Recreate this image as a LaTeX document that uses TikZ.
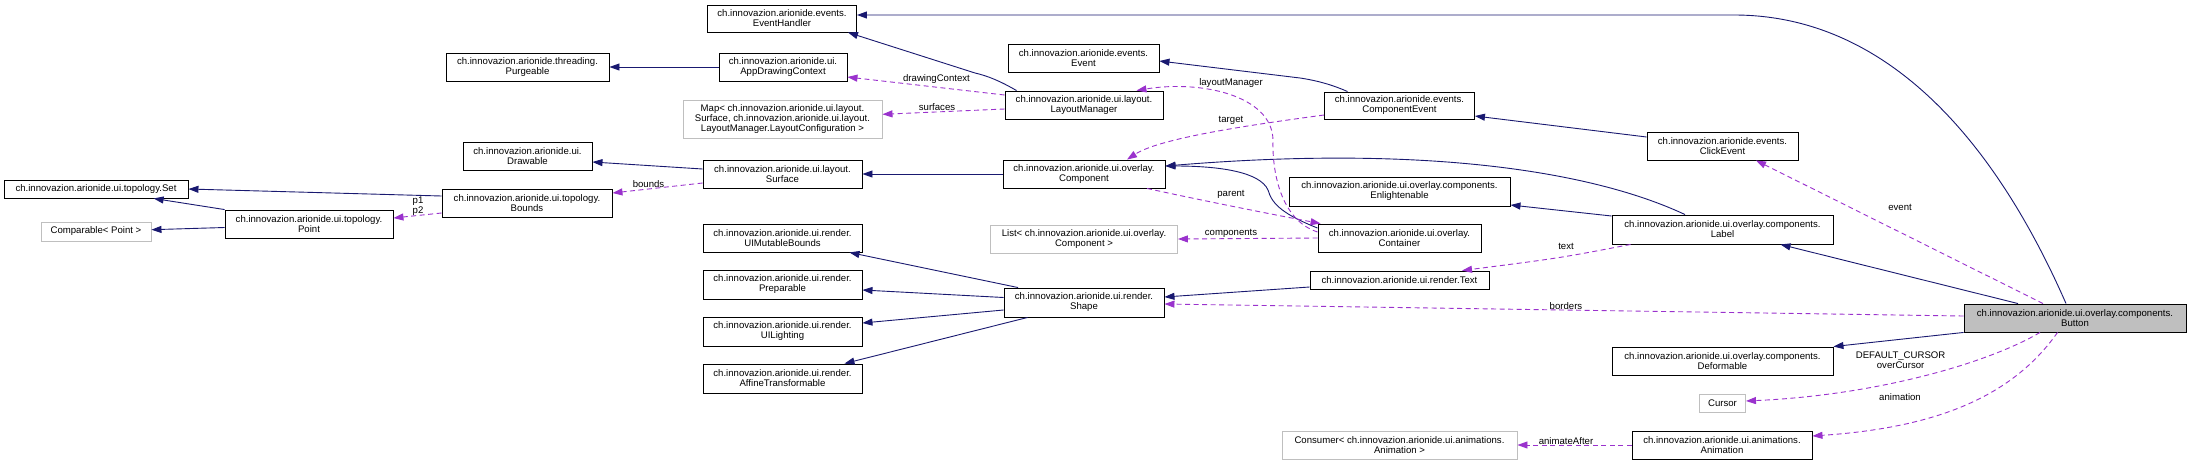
\documentclass[tikz,border=0pt]{standalone}
\usepackage{fontspec}
\setmainfont{Liberation Sans}
\usetikzlibrary{arrows.meta,calc}
\definecolor{navy}{HTML}{191970}
\definecolor{orchid}{HTML}{9A32CD}
\definecolor{boxgray}{HTML}{BFBFBF}
\tikzset{
  cls/.style={draw=black, line width=0.9pt, fill=white, inner sep=0pt, align=center, font=\fontsize{9.6}{10}\selectfont},
  ext/.style={cls, draw=boxgray},
  inh/.style={draw=navy, line width=0.9pt, -{Triangle[length=10pt,width=7pt]}},
  use/.style={draw=orchid, line width=0.9pt, dash pattern=on 5pt off 3.5pt, -{Triangle[length=10pt,width=7pt,fill=orchid]}},
  lbl/.style={inner sep=0pt, align=center, font=\fontsize{9.6}{10}\selectfont}
}
\begin{document}
\begin{tikzpicture}[x=1pt,y=-1pt]
\fill[white] (0,0) rectangle (2189,464);
\useasboundingbox (0,0) rectangle (2189,464);
% nodes
\node[cls, minimum width=149, minimum height=27] (eh) at (782,18.5) {ch.innovazion.arionide.events.\\EventHandler};
\node[cls, minimum width=163, minimum height=28] (purg) at (527.5,67) {ch.innovazion.arionide.threading.\\Purgeable};
\node[cls, minimum width=128, minimum height=28] (adc) at (783,67) {ch.innovazion.arionide.ui.\\AppDrawingContext};
\node[ext, minimum width=199, minimum height=38] (map) at (782.5,119) {Map< ch.innovazion.arionide.ui.layout.\\Surface, ch.innovazion.arionide.ui.layout.\\LayoutManager.LayoutConfiguration >};
\node[cls, minimum width=158, minimum height=28] (lm) at (1084,105) {ch.innovazion.arionide.ui.layout.\\LayoutManager};
\node[cls, minimum width=151, minimum height=28] (ev) at (1083.5,58) {ch.innovazion.arionide.events.\\Event};
\node[cls, minimum width=150, minimum height=27] (ce) at (1399.5,105.5) {ch.innovazion.arionide.events.\\ComponentEvent};
\node[cls, minimum width=151, minimum height=28] (click) at (1722.5,146) {ch.innovazion.arionide.events.\\ClickEvent};
\node[cls, minimum width=129, minimum height=28] (drawable) at (527.5,156) {ch.innovazion.arionide.ui.\\Drawable};
\node[cls, minimum width=159, minimum height=28] (surf) at (782.5,174) {ch.innovazion.arionide.ui.layout.\\Surface};
\node[cls, minimum width=162, minimum height=28] (comp) at (1084,174) {ch.innovazion.arionide.ui.overlay.\\Component};
\node[cls, minimum width=184, minimum height=18] (set) at (96,189) {ch.innovazion.arionide.ui.topology.Set};
\node[cls, minimum width=170, minimum height=28] (bounds) at (527,203) {ch.innovazion.arionide.ui.topology.\\Bounds};
\node[ext, minimum width=110, minimum height=19] (comparable) at (96,231.5) {Comparable< Point >};
\node[cls, minimum width=168, minimum height=28] (point) at (309,224) {ch.innovazion.arionide.ui.topology.\\Point};
\node[cls, minimum width=221, minimum height=29] (enl) at (1399.5,191.5) {ch.innovazion.arionide.ui.overlay.components.\\Enlightenable};
\node[cls, minimum width=221, minimum height=29] (label) at (1722.5,229.5) {ch.innovazion.arionide.ui.overlay.components.\\Label};
\node[cls, minimum width=163, minimum height=28] (cont) at (1399.5,238) {ch.innovazion.arionide.ui.overlay.\\Container};
\node[ext, minimum width=187, minimum height=28] (list) at (1084,239) {List< ch.innovazion.arionide.ui.overlay.\\Component >};
\node[cls, minimum width=159, minimum height=28] (uimb) at (782.5,238) {ch.innovazion.arionide.ui.render.\\UIMutableBounds};
\node[cls, minimum width=179, minimum height=18] (text) at (1399.5,280) {ch.innovazion.arionide.ui.render.Text};
\node[cls, minimum width=160, minimum height=29] (shape) at (1084,302.5) {ch.innovazion.arionide.ui.render.\\Shape};
\node[cls, minimum width=159, minimum height=29] (prep) at (782.5,284.5) {ch.innovazion.arionide.ui.render.\\Preparable};
\node[cls, fill=boxgray, minimum width=222, minimum height=28] (btn) at (2075,318) {ch.innovazion.arionide.ui.overlay.components.\\Button};
\node[cls, minimum width=159, minimum height=29] (uil) at (782.5,331.5) {ch.innovazion.arionide.ui.render.\\UILighting};
\node[cls, minimum width=159, minimum height=29] (aff) at (782.5,378.5) {ch.innovazion.arionide.ui.render.\\AffineTransformable};
\node[cls, minimum width=221, minimum height=28] (def) at (1722.5,361) {ch.innovazion.arionide.ui.overlay.components.\\Deformable};
\node[ext, minimum width=46, minimum height=18] (cursor) at (1722.5,403) {Cursor};
\node[cls, minimum width=180, minimum height=28] (anim) at (1722,445) {ch.innovazion.arionide.ui.animations.\\Animation};
\node[ext, minimum width=235, minimum height=28] (cons) at (1399.5,445) {Consumer< ch.innovazion.arionide.ui.animations.\\Animation >};

% inheritance edges
\draw[inh] ($(btn.north)+(-9,0)$) .. controls (1990,130) and (1880,15) .. (1734,15) -- ($(eh.east)+(0,-3.5)$);
\draw[inh] ($(lm.north west)+(12,0)$) .. controls (1000,81) and (988,76) .. (975,73) -- ($(eh.south east)+(-9,0)$);
\draw[inh] (adc.west) -- (purg.east);
\draw[inh] ($(ce.north west)+(23.5,0)$) .. controls (1335,86) and (1320,81) .. (1300,78) -- ($(ev.east)+(0,3)$);
\draw[inh] ($(click.west)+(0,-9)$) -- ($(ce.east)+(0,10.5)$);
\draw[inh] ($(surf.west)+(0,-5)$) -- ($(drawable.east)+(0,6)$);
\draw[inh] (comp.west) -- (surf.east);
\draw[inh] ($(bounds.west)+(0,-7)$) -- (set.east);
\draw[inh] (point.north west) -- ($(set.south)+(57.6,0)$);
\draw[inh] ($(point.west)+(0,3.5)$) -- ($(comparable.east)+(0,-1.8)$);
\draw[inh] ($(cont.north west)+(0,4.5)$) .. controls (1285,215) and (1272,205) .. (1268,190) .. controls (1260,172) and (1220,166) .. ($(comp.east)+(0,-8)$);
\draw[inh] ($(label.north)+(-37.5,0)$) .. controls (1590,170) and (1420,145) .. ($(comp.east)+(0,-8)$);
\draw[inh] ($(label.west)+(0,-13.5)$) -- ($(enl.east)+(0,13.5)$);
\draw[inh] ($(text.west)+(0,7)$) -- ($(shape.east)+(0,-5.5)$);
\draw[inh] ($(shape.north west)+(14.5,0)$) -- ($(uimb.south east)+(-13,0)$);
\draw[inh] ($(shape.west)+(0,-5)$) -- ($(prep.east)+(0,5.5)$);
\draw[inh] ($(shape.west)+(0,7.5)$) -- ($(uil.east)+(0,-8.5)$);
\draw[inh] ($(shape.south west)+(24,0)$) -- ($(aff.north east)+(-18,0)$);
\draw[inh] ($(btn.north)+(-57,0)$) -- ($(label.south)+(58,0)$);
\draw[inh] (btn.south west) -- (def.north east);

% usage edges
\draw[use] ($(lm.west)+(0,-10)$) -- ($(adc.east)+(0,10)$);
\node[lbl] (lDC) at (936.5,79) {drawingContext};
\draw[use] ($(lm.west)+(0,4)$) -- ($(map.east)+(0,-4.7)$);
\node[lbl] (lSu) at (937,107) {surfaces};
\draw[use] ($(cont.west)+(0,-6)$) .. controls (1280,220) and (1272,170) .. (1273,140) .. controls (1272,95) and (1200,80) .. ($(lm.north east)+(-27,0)$);
\node[lbl] (lLM) at (1231,83) {layoutManager};
\draw[use] ($(ce.west)+(0,9.5)$) .. controls (1250,125) and (1160,138) .. ($(comp.north)+(43,0)$);
\node[lbl] (lTa) at (1231,120) {target};
\draw[use] ($(comp.south)+(63,0)$) .. controls (1200,200) and (1260,212) .. ($(cont.north west)+(3,0)$);
\node[lbl] (lPa) at (1231,194) {parent};
\draw[use] (cont.west) -- (list.east);
\node[lbl] (lCo) at (1231,233) {components};
\draw[use] ($(label.south west)+(19,0)$) .. controls (1560,258) .. ($(text.north)+(62.5,0)$);
\node[lbl] (lTe) at (1566,246) {text};
\draw[use] ($(btn.west)+(0,-2)$) -- ($(shape.east)+(0,1.5)$);
\node[lbl] (lBo) at (1566,306) {borders};
\draw[use] ($(btn.north)+(-32,0)$) -- ($(click.south)+(33.5,0)$);
\node[lbl] (lEv) at (1900,207) {event};
\draw[use] ($(btn.south)+(-35,0)$) .. controls (1990,362) and (1880,395) .. ($(cursor.east)+(0,-2)$);
\node[lbl] (lCu) at (1900.6,360) {DEFAULT\_CURSOR\\overCursor};
\draw[use] ($(btn.south)+(-17.5,0)$) .. controls (2010,400) and (1930,428) .. ($(anim.east)+(0,-9)$);
\node[lbl] (lAn) at (1900,397) {animation};
\draw[use] (anim.west) -- (cons.east);
\node[lbl] (lAA) at (1566,441) {animateAfter};
\draw[use] ($(bounds.west)+(0,10)$) -- ($(point.east)+(0,-6)$);
\node[lbl] (lP) at (418,206) {p1\\p2};
\draw[use] ($(surf.west)+(0,9)$) -- ($(bounds.east)+(0,-10)$);
\node[lbl] (lBd) at (648.5,184) {bounds};
\end{tikzpicture}
\end{document}
